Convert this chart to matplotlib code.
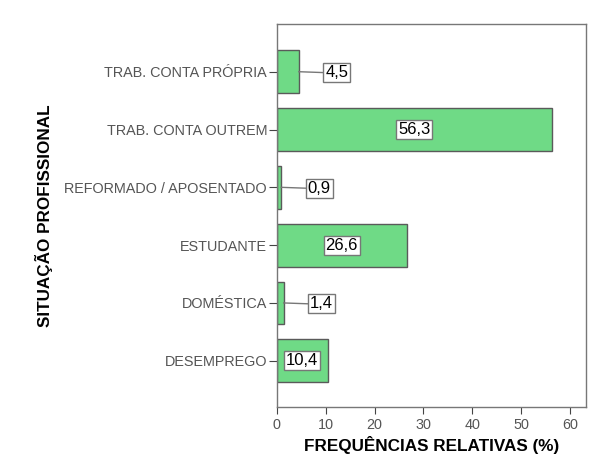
import matplotlib.pyplot as plt

plt.rcParams['font.family'] = ['Liberation Sans', 'DejaVu Sans']

# Data (top to bottom as in the chart)
categories = ['TRAB. CONTA PRÓPRIA', 'TRAB. CONTA OUTREM', 'REFORMADO / APOSENTADO',
              'ESTUDANTE', 'DOMÉSTICA', 'DESEMPREGO']
values = [4.5, 56.3, 0.9, 26.6, 1.4, 10.4]
labels = ['4,5', '56,3', '0,9', '26,6', '1,4', '10,4']

bar_color = '#6fda86'
edge_color = '#5a5a5a'

fig = plt.figure(figsize=(5.89, 4.59), dpi=100)
ax = fig.add_axes([0.470, 0.1133, 0.525, 0.835])

ypos = list(range(len(categories)))[::-1]
ax.barh(ypos, values, height=0.74, color=bar_color, edgecolor=edge_color, linewidth=1)

ax.set_xlim(0, 63.3)
ax.set_ylim(-0.8, 5.83)
ax.set_yticks(ypos)
ax.set_yticklabels(categories, fontsize=10.4, color='#555555')
ax.set_xticks([0, 10, 20, 30, 40, 50, 60])
ax.tick_params(axis='x', labelsize=10.4, labelcolor='#555555', length=5, color='#444444', pad=3)
ax.tick_params(axis='y', length=6, color='#444444', pad=1)

for side in ['left', 'bottom', 'top', 'right']:
    ax.spines[side].set_color('#777777')
    ax.spines[side].set_linewidth(1)

box = dict(boxstyle='square,pad=0.12', facecolor='white', edgecolor='#777777', linewidth=1)
for y, v, lab in zip(ypos, values, labels):
    if v > 8:
        ax.text(v / 2, y, lab, ha='center', va='center', fontsize=12, color='black', bbox=box)
    else:
        xl = v + 5.4
        ax.plot([v, xl - 0.4], [y, y - 0.015], color='#777777', linewidth=1)
        ax.text(xl, y - 0.015, lab, ha='left', va='center', fontsize=12, color='black', bbox=box)

ax.set_xlabel('FREQUÊNCIAS RELATIVAS (%)', fontsize=12.3, fontweight='bold', labelpad=3)
ax.set_ylabel('SITUAÇÃO PROFISSIONAL', fontsize=12.3, fontweight='bold', labelpad=8)

fig.savefig('out.png', dpi=100, facecolor='white')
